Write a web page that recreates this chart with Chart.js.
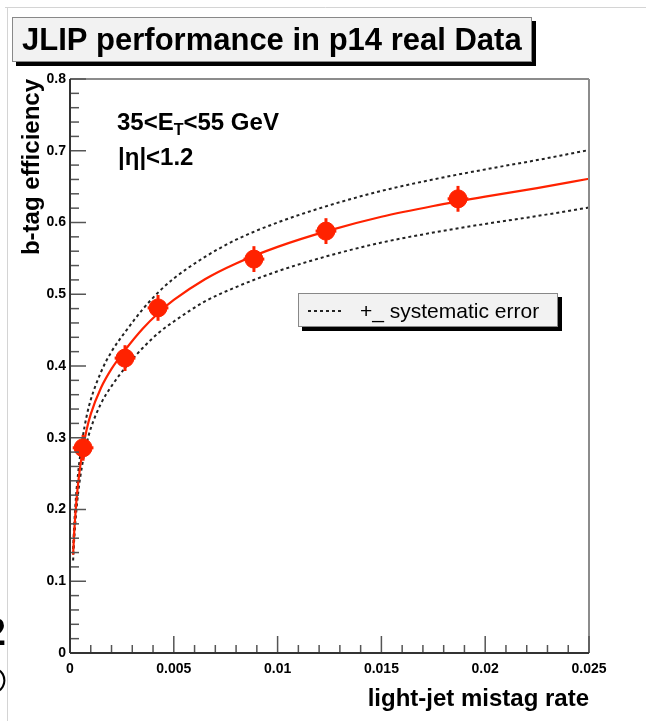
<!DOCTYPE html>
<html>
<head>
<meta charset="utf-8">
<script src="https://cdn.jsdelivr.net/npm/chart.js@4.4.1/dist/chart.umd.min.js"></script>
<style>
  html, body { margin: 0; padding: 0; background: #fff; }
  canvas { display: block; }
</style>
</head>
<body>
<canvas id="chart" width="646" height="721"></canvas>
<script>
const FONT = "'Liberation Sans', Arial, Helvetica, sans-serif";
const RED = "#ff2200";

// measured b-tag efficiency vs light-jet mistag rate
const mistag = [0.00063, 0.00265, 0.00424, 0.00886, 0.01233, 0.01869];
const effic = [0.286, 0.411, 0.481, 0.549, 0.588, 0.633];
const mistagErr = [0.0005, 0.0005, 0.0005, 0.0005, 0.0005, 0.0005];
const efficErr = [0.018, 0.018, 0.018, 0.018, 0.018, 0.018];

// fitted curve and the +- systematic band around it
const curveX = [0.00015, 0.0002, 0.0003, 0.0004, 0.0006, 0.0008, 0.001, 0.0015, 0.002, 0.0027, 0.0035,
                0.0043, 0.005, 0.0065, 0.008, 0.01, 0.0125, 0.015, 0.0175, 0.02, 0.0225, 0.025];
const fitEff = [0.137, 0.167, 0.209, 0.239, 0.281, 0.311, 0.333, 0.370, 0.396, 0.424, 0.452,
                0.475, 0.492, 0.521, 0.543, 0.566, 0.589, 0.608, 0.623, 0.636, 0.648, 0.661];
const sysUp = [0.145, 0.177, 0.222, 0.253, 0.298, 0.330, 0.353, 0.392, 0.420, 0.449, 0.479,
               0.504, 0.522, 0.552, 0.576, 0.600, 0.624, 0.644, 0.660, 0.674, 0.687, 0.701];
const sysDown = [0.129, 0.157, 0.196, 0.225, 0.264, 0.292, 0.313, 0.348, 0.372, 0.399, 0.425,
                 0.447, 0.462, 0.490, 0.510, 0.532, 0.554, 0.572, 0.586, 0.598, 0.609, 0.621];

const xTickVals = [0, 0.005, 0.01, 0.015, 0.02, 0.025];
const xTickLabels = ["0", "0.005", "0.01", "0.015", "0.02", "0.025"];
const yTickVals = [0, 0.1, 0.2, 0.3, 0.4, 0.5, 0.6, 0.7, 0.8];
const yTickLabels = ["0", "0.1", "0.2", "0.3", "0.4", "0.5", "0.6", "0.7", "0.8"];

const toPts = (xs, ys) => xs.map((x, i) => ({ x: x, y: ys[i] }));

function line(ctx, x1, y1, x2, y2) {
  ctx.beginPath(); ctx.moveTo(x1, y1); ctx.lineTo(x2, y2); ctx.stroke();
}

function shadowBox(ctx, x, y, w, h, sh) {
  ctx.fillStyle = "#000";
  ctx.fillRect(x + sh, y + sh, w, h);
  ctx.fillStyle = "#f2f2f2";
  ctx.fillRect(x, y, w, h);
  ctx.strokeStyle = "#888";
  ctx.lineWidth = 1;
  ctx.strokeRect(x + 0.5, y + 0.5, w - 1, h - 1);
}

const rootStyle = {
  id: "rootStyle",
  beforeDraw(chart) {
    const ctx = chart.ctx;
    ctx.save();
    ctx.fillStyle = "#fff";
    ctx.fillRect(0, 0, chart.width, chart.height);
    // pad border
    ctx.strokeStyle = "#d4d4d4";
    ctx.lineWidth = 1;
    line(ctx, 5, 7.5, chart.width, 7.5);
    line(ctx, 7.5, 7, 7.5, chart.height);
    // title box
    shadowBox(ctx, 12, 17, 520, 45, 4);
    ctx.fillStyle = "#000";
    ctx.font = "bold 31px " + FONT;
    ctx.textAlign = "left";
    ctx.textBaseline = "alphabetic";
    ctx.fillText("JLIP performance in p14 real Data", 22, 50);
    // clipped glyphs at the left edge
    ctx.font = "bold 38px " + FONT;
    ctx.textAlign = "right";
    ctx.fillText("2", 6, 645);
    ctx.fillText("\u00a9", 6, 694);
    ctx.restore();
  },
  beforeDatasetDraw(chart, args) {
    if (args.index !== 0) return;
    const ctx = chart.ctx;
    const xs = chart.scales.x, ys = chart.scales.y;
    ctx.save();
    ctx.strokeStyle = RED;
    ctx.lineWidth = 3;
    mistag.forEach((m, i) => {
      const px = xs.getPixelForValue(m), py = ys.getPixelForValue(effic[i]);
      const y1 = ys.getPixelForValue(effic[i] + efficErr[i]);
      const y2 = ys.getPixelForValue(effic[i] - efficErr[i]);
      const x1 = xs.getPixelForValue(m - mistagErr[i]);
      const x2 = xs.getPixelForValue(m + mistagErr[i]);
      line(ctx, px, y1, px, y2);
      line(ctx, x1, py, x2, py);
    });
    ctx.restore();
  },
  afterDraw(chart) {
    const ctx = chart.ctx;
    const xs = chart.scales.x, ys = chart.scales.y;
    const { left, right, top, bottom } = chart.chartArea;
    ctx.save();
    // frame top and right
    ctx.strokeStyle = "#8c8c8c";
    ctx.lineWidth = 2;
    line(ctx, left, top, right, top);
    line(ctx, right, top, right, bottom);
    // tick marks pointing into the frame
    ctx.strokeStyle = "#555";
    ctx.lineWidth = 1.5;
    for (let i = 0; i <= 25; i++) {
      const px = xs.getPixelForValue(i * 0.001);
      line(ctx, px, bottom, px, bottom - (i % 5 === 0 ? 17 : 8));
    }
    for (let i = 0; i <= 40; i++) {
      const py = ys.getPixelForValue(i * 0.02);
      line(ctx, left, py, left + (i % 5 === 0 ? 16 : 9), py);
    }
    // axis lines
    ctx.strokeStyle = "#333";
    ctx.lineWidth = 2;
    line(ctx, left, top, left, bottom);
    line(ctx, left, bottom, right, bottom);

    // cut labels
    ctx.fillStyle = "#000";
    ctx.textAlign = "left";
    ctx.textBaseline = "alphabetic";
    ctx.font = "bold 24px " + FONT;
    let x = 117;
    ctx.fillText("35<E", x, 130);
    x += ctx.measureText("35<E").width;
    ctx.font = "bold 16px " + FONT;
    ctx.fillText("T", x, 135);
    x += ctx.measureText("T").width;
    ctx.font = "bold 24px " + FONT;
    ctx.fillText("<55 GeV", x, 130);
    ctx.fillText("|\u03b7|<1.2", 118, 165);

    // legend
    shadowBox(ctx, 298, 293, 260, 34, 4);
    ctx.strokeStyle = "#222";
    ctx.lineWidth = 2;
    ctx.setLineDash([3, 3]);
    line(ctx, 308, 311, 342, 311);
    ctx.setLineDash([]);
    ctx.fillStyle = "#000";
    ctx.font = "21px " + FONT;
    ctx.fillText("+_ systematic error", 360, 318);
    ctx.restore();
  }
};

const labelFont = { family: FONT, size: 14, weight: "bold" };

new Chart(document.getElementById("chart"), {
  type: "scatter",
  data: {
    datasets: [
      {
        data: toPts(mistag, effic),
        backgroundColor: RED,
        borderColor: RED,
        pointRadius: 9,
        pointHoverRadius: 9,
        order: 0
      },
      {
        data: toPts(curveX, fitEff),
        showLine: true,
        borderColor: RED,
        borderWidth: 2.2,
        pointRadius: 0,
        cubicInterpolationMode: "monotone",
        order: 1
      },
      {
        data: toPts(curveX, sysUp),
        showLine: true,
        borderColor: "#222",
        borderWidth: 2,
        borderDash: [3, 3],
        pointRadius: 0,
        cubicInterpolationMode: "monotone",
        order: 2
      },
      {
        data: toPts(curveX, sysDown),
        showLine: true,
        borderColor: "#222",
        borderWidth: 2,
        borderDash: [3, 3],
        pointRadius: 0,
        cubicInterpolationMode: "monotone",
        order: 2
      }
    ]
  },
  options: {
    responsive: false,
    animation: false,
    layout: { padding: { left: 0, top: 79, right: 57, bottom: 0 } },
    plugins: { legend: { display: false }, tooltip: { enabled: false } },
    scales: {
      x: {
        type: "linear",
        min: 0,
        max: 0.025,
        afterFit: s => { s.height = 68; },
        afterBuildTicks: s => { s.ticks = xTickVals.map(v => ({ value: v })); },
        grid: { display: false, drawTicks: false },
        border: { display: false },
        ticks: {
          padding: 8,
          color: "#000",
          font: labelFont,
          maxRotation: 0,
          autoSkip: false,
          callback: (v, i) => xTickLabels[i]
        },
        title: {
          display: true,
          text: "light-jet mistag rate",
          align: "end",
          color: "#000",
          font: { family: FONT, size: 24, weight: "bold" },
          padding: { top: 0, bottom: 7 }
        }
      },
      y: {
        type: "linear",
        min: 0,
        max: 0.8,
        afterFit: s => { s.width = 70; },
        afterBuildTicks: s => { s.ticks = yTickVals.map(v => ({ value: v })); },
        grid: { display: false, drawTicks: false },
        border: { display: false },
        ticks: {
          padding: 4,
          color: "#000",
          font: labelFont,
          autoSkip: false,
          callback: (v, i) => yTickLabels[i]
        },
        title: {
          display: true,
          text: "b-tag efficiency",
          align: "end",
          color: "#000",
          font: { family: FONT, size: 24, weight: "bold" },
          padding: { top: 18, bottom: 0 }
        }
      }
    }
  },
  plugins: [rootStyle]
});
</script>
</body>
</html>
